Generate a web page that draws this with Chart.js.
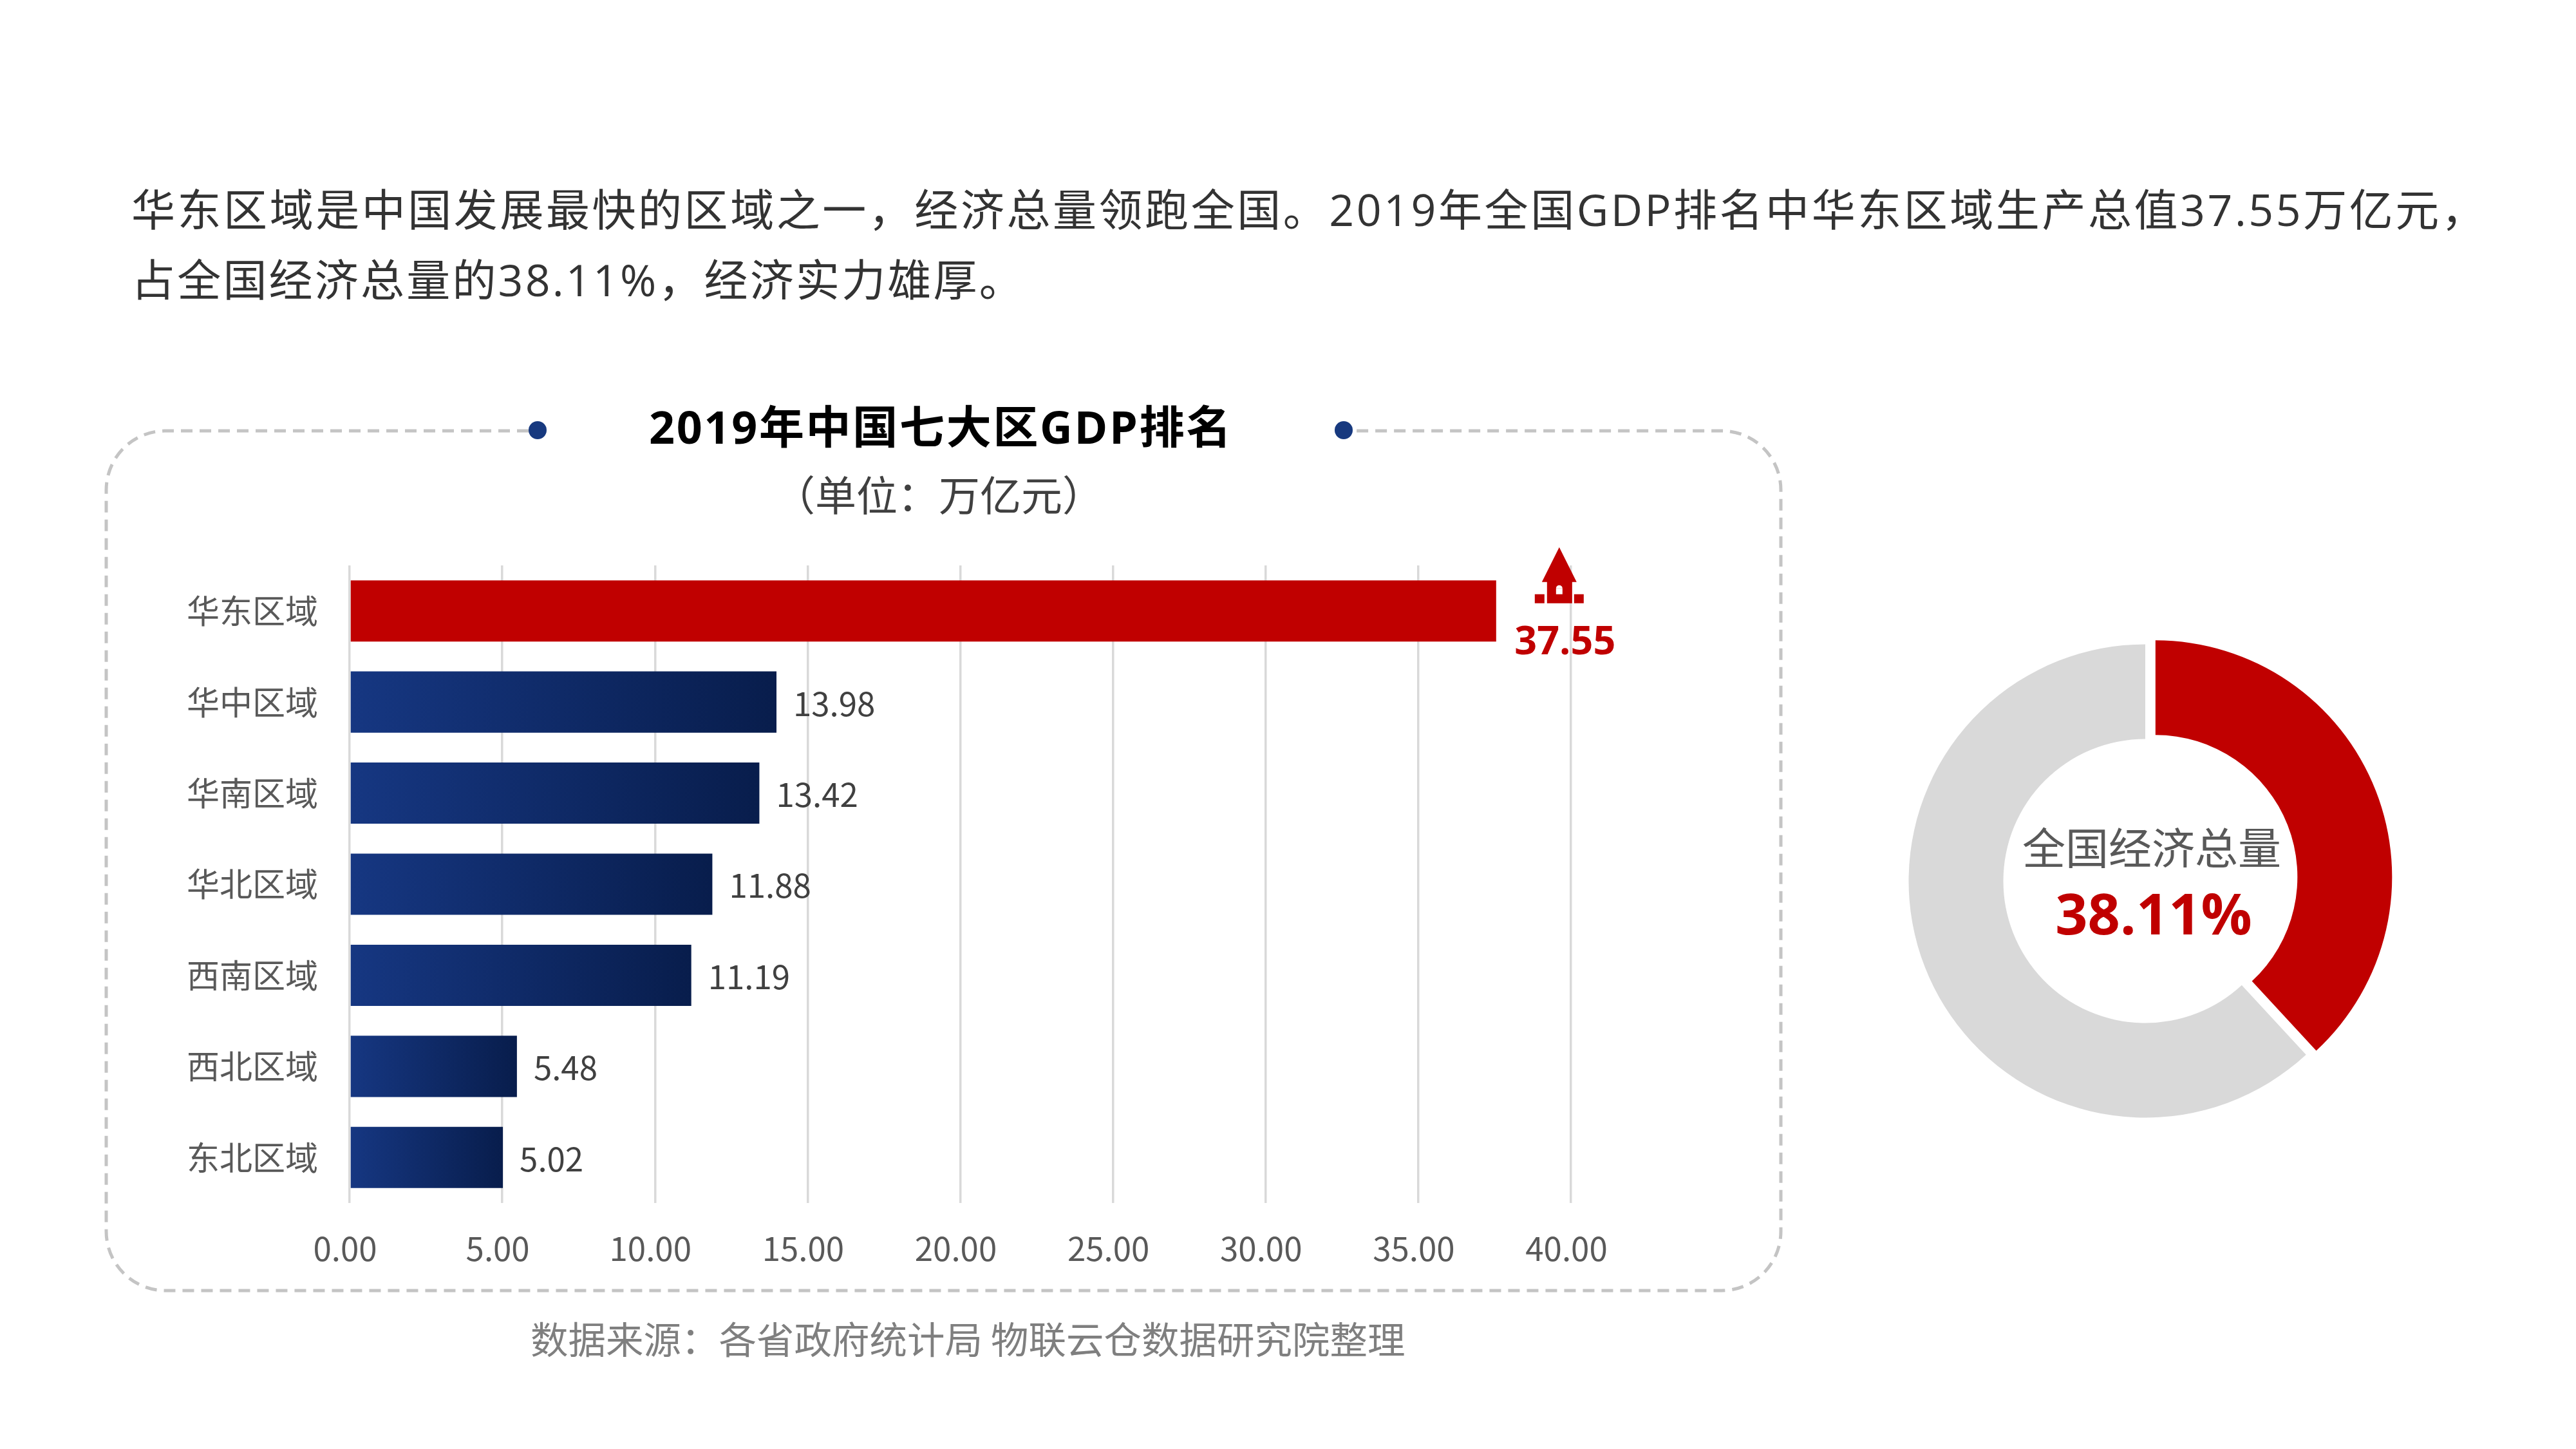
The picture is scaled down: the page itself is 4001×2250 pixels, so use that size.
<!DOCTYPE html>
<html lang="zh-CN">
<head>
<meta charset="utf-8">
<title>2019年中国七大区GDP排名</title>
<script src="https://cdn.jsdelivr.net/npm/chart.js@4/dist/chart.umd.min.js"></script>
<style>
  html, body { margin: 0; padding: 0; background: #fff; }
  body { position: relative; width: 4001px; height: 2250px; overflow: hidden; font-family: "Noto Sans CJK SC", sans-serif; }
  .txt { position: absolute; white-space: nowrap; line-height: 1; }
  canvas { position: absolute; }
  svg { position: absolute; left: 0; top: 0; }
  #line1, #line2 { left: 204px; font-family: "Open Sans", "Noto Sans CJK SC", sans-serif; font-size: 68px; color: #333; }
  #line1 { top: 291px; letter-spacing: 3.55px; }
  #line2 { top: 400px; letter-spacing: 3.2px; }
  #title { left: 1008px; width: 900px; top: 627px; text-align: center; font-family: "Open Sans", "Noto Sans CJK SC", sans-serif; font-size: 70px; font-weight: bold; color: #000; letter-spacing: 2.7px; }
  #unit { left: 1008px; width: 900px; top: 733px; text-align: center; font-size: 64px; color: #404040; }
  #source { left: 824px; top: 2048px; font-size: 58.5px; color: #7f7f7f; }
  #ringName { left: 3042px; width: 600px; top: 1279px; text-align: center; font-size: 67px; color: #595959; }
  #ringValue { left: 3045px; width: 600px; top: 1373px; text-align: center; font-family: "Open Sans", "Noto Sans CJK SC", sans-serif; font-size: 88px; font-weight: bold; color: #c00000; }
</style>
</head>
<body>

<svg width="4001" height="2250">
  <path d="M 821 669 H 257 A 92 92 0 0 0 165 761 V 1912 A 92 92 0 0 0 257 2004 H 2674 A 92 92 0 0 0 2766 1912 V 761 A 92 92 0 0 0 2674 669 H 2101"
        fill="none" stroke="#c4c4c4" stroke-width="5" stroke-dasharray="18 11"/>
  <ellipse cx="835" cy="668" rx="14" ry="14" fill="#17397f"/>
  <ellipse cx="2087" cy="668" rx="14" ry="14" fill="#17397f"/>
</svg>

<div class="txt" id="line1">华东区域是中国发展最快的区域之一，经济总量领跑全国。2019年全国GDP排名中华东区域生产总值37.55万亿元，</div>
<div class="txt" id="line2">占全国经济总量的38.11%，经济实力雄厚。</div>
<div class="txt" id="title">2019年中国七大区GDP排名</div>
<div class="txt" id="unit">（单位：万亿元）</div>
<div class="txt" id="source">数据来源：各省政府统计局 物联云仓数据研究院整理</div>

<canvas id="bar-chart" width="2500" height="1200" style="left:100px;top:800px"></canvas>
<canvas id="ring-chart" width="800" height="800" style="left:2932px;top:968px"></canvas>

<div class="txt" id="ringName">全国经济总量</div>
<div class="txt" id="ringValue">38.11%</div>

<script>
const regions = ["华东区域", "华中区域", "华南区域", "华北区域", "西南区域", "西北区域", "东北区域"];
const gdpValues = [37.55, 13.98, 13.42, 11.88, 11.19, 5.48, 5.02];
const xTickLabels = ["0.00", "5.00", "10.00", "15.00", "20.00", "25.00", "30.00", "35.00", "40.00"];

const ringLabels = ["华东区域", "其他区域"];
const ringValues = [38.11, 61.89];

const fontName = '"Noto Sans CJK SC", sans-serif';
const labelFontName = '"Open Sans", "Noto Sans CJK SC", sans-serif';
const red = "#c00000";

// bars go dark towards the right, each one has its own gradient
function barColor(context) {
  if (context.dataIndex === 0) return red;
  const xScale = context.chart.scales.x;
  if (!xScale) return "#17397f";
  const left = xScale.getPixelForValue(0);
  const right = xScale.getPixelForValue(gdpValues[context.dataIndex]);
  const gradient = context.chart.ctx.createLinearGradient(left, 0, right, 0);
  gradient.addColorStop(0, "#163782");
  gradient.addColorStop(1, "#081d4c");
  return gradient;
}

// small house with an arrow roof above the top value
function drawHouse(ctx, cx, top) {
  ctx.fillStyle = red;
  ctx.beginPath();
  ctx.moveTo(cx, top);
  ctx.lineTo(cx + 27, top + 54);
  ctx.lineTo(cx + 20, top + 54);
  ctx.lineTo(cx + 20, top + 87);
  ctx.lineTo(cx - 19, top + 87);
  ctx.lineTo(cx - 19, top + 54);
  ctx.lineTo(cx - 27, top + 54);
  ctx.closePath();
  ctx.fill();
  ctx.fillRect(cx - 38, top + 73, 15, 14);
  ctx.fillRect(cx + 23, top + 73, 15, 14);
  ctx.fillStyle = "#fff";
  ctx.fillRect(cx - 5, top + 64, 10, 9);
  ctx.beginPath();
  ctx.arc(cx, top + 64, 5, Math.PI, 0);
  ctx.fill();
}

const valueLabels = {
  id: "valueLabels",
  afterDatasetsDraw(chart) {
    const ctx = chart.ctx;
    const bars = chart.getDatasetMeta(0).data;
    ctx.save();
    ctx.textBaseline = "middle";
    bars.forEach((bar, i) => {
      const text = gdpValues[i].toFixed(2);
      if (i === 0) {
        ctx.font = "bold 61px " + labelFontName;
        ctx.fillStyle = red;
        ctx.textAlign = "center";
        ctx.fillText(text, bar.x + 107, bar.y + 50);
        drawHouse(ctx, bar.x + 98, bar.y - 99);
      } else {
        ctx.font = "51px " + fontName;
        ctx.fillStyle = "#404040";
        ctx.textAlign = "left";
        ctx.fillText(text, bar.x + 26, bar.y + 2);
      }
    });
    ctx.restore();
  },
};

// pulls the red slice away from the centre without changing its radii
const explodeFirstSlice = {
  id: "explodeFirstSlice",
  afterDatasetsUpdate(chart) {
    const arc = chart.getDatasetMeta(0).data[0];
    const midAngle = (arc.startAngle + arc.endAngle) / 2;
    arc.x += Math.cos(midAngle) * 17;
    arc.y += Math.sin(midAngle) * 17;
  },
};

new Chart(document.getElementById("bar-chart"), {
  type: "bar",
  data: {
    labels: regions,
    datasets: [
      {
        label: "GDP",
        data: gdpValues,
        backgroundColor: barColor,
        barPercentage: 0.672,
        categoryPercentage: 1,
      },
    ],
  },
  plugins: [valueLabels],
  options: {
    indexAxis: "y",
    responsive: false,
    animation: false,
    devicePixelRatio: 1,
    layout: { padding: { top: 78, right: 160, left: 0, bottom: 0 } },
    plugins: { legend: { display: false }, tooltip: { enabled: false } },
    scales: {
      x: {
        min: 0,
        max: 40,
        afterFit: (scale) => { scale.height = 132; },
        grid: { color: "#d9d9d9", lineWidth: 3.5, drawTicks: false },
        border: { display: false },
        ticks: {
          stepSize: 5,
          autoSkip: false,
          maxRotation: 0,
          padding: 40,
          labelOffset: -7,
          color: "#595959",
          font: { family: fontName, size: 51 },
          callback: (value, index) => xTickLabels[index],
        },
      },
      y: {
        afterFit: (scale) => {
          scale.width = 443;
          scale.paddingTop = 0;
          scale.paddingBottom = 0;
        },
        grid: { display: false },
        border: { display: false },
        ticks: {
          padding: 41,
          color: "#595959",
          font: { family: fontName, size: 51 },
        },
      },
    },
  },
});

new Chart(document.getElementById("ring-chart"), {
  type: "doughnut",
  data: {
    labels: ringLabels,
    datasets: [
      {
        data: ringValues,
        backgroundColor: [red, "#d9d9d9"],
        borderWidth: 0,
      },
    ],
  },
  plugins: [explodeFirstSlice],
  options: {
    responsive: false,
    animation: false,
    devicePixelRatio: 1,
    radius: 367.5,
    cutout: "60%",
    plugins: { legend: { display: false }, tooltip: { enabled: false } },
  },
});
</script>
</body>
</html>
